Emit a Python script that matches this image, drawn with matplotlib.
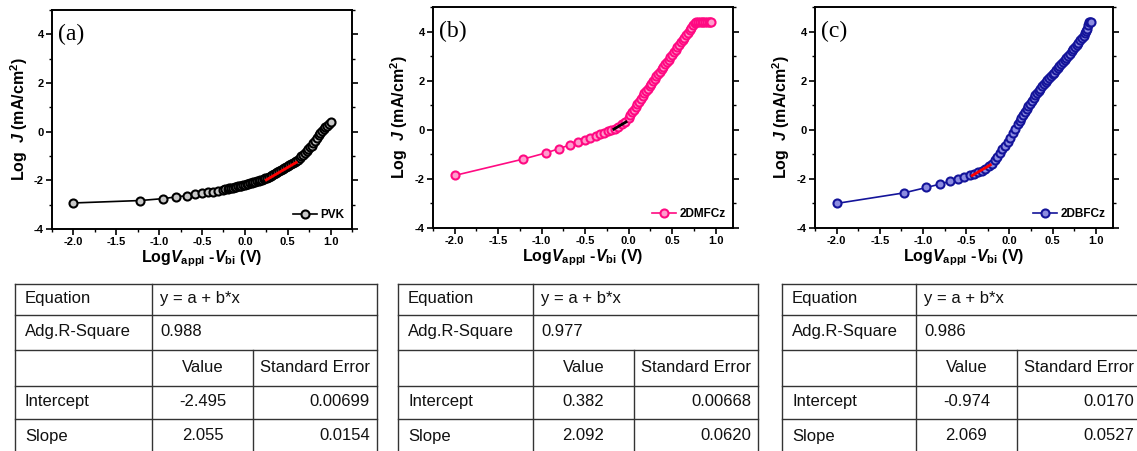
import matplotlib
matplotlib.use("Agg")
import matplotlib.pyplot as plt
from matplotlib.ticker import MultipleLocator

plt.rcParams['font.family'] = ['Liberation Sans', 'DejaVu Sans']
plt.rcParams['mathtext.fontset'] = 'custom'
plt.rcParams['mathtext.rm'] = 'Liberation Sans:bold'
plt.rcParams['mathtext.it'] = 'Liberation Sans:italic:bold'
plt.rcParams['mathtext.bf'] = 'Liberation Sans:bold'

# ---------------- data ----------------
pvk_x = [-2.0, -1.22, -0.95, -0.80, -0.68, -0.58, -0.50, -0.43, -0.37, -0.31, -0.26, -0.23,
         -0.20, -0.18, -0.16, -0.14, -0.12, -0.10, -0.08, -0.06, -0.04, -0.02,
         0.00, 0.02, 0.04, 0.06, 0.08, 0.10, 0.12, 0.14, 0.16, 0.18,
         0.20, 0.22, 0.24, 0.26, 0.28, 0.30, 0.32, 0.34, 0.36, 0.38,
         0.40, 0.42, 0.44, 0.46, 0.48, 0.50, 0.52, 0.54, 0.56, 0.58,
         0.60, 0.62, 0.64, 0.66, 0.68, 0.70, 0.72, 0.74, 0.76, 0.78,
         0.80, 0.82, 0.84, 0.86, 0.88, 0.90, 0.92, 0.94, 0.96, 0.98, 1.00]
pvk_y = [-2.93, -2.83, -2.75, -2.68, -2.63, -2.58, -2.53, -2.49, -2.46, -2.42, -2.39, -2.37,
         -2.34, -2.33, -2.31, -2.30, -2.28, -2.27, -2.25, -2.24, -2.22, -2.20,
         -2.18, -2.16, -2.14, -2.12, -2.10, -2.08, -2.06, -2.04, -2.02, -2.00,
         -1.97, -1.95, -1.92, -1.89, -1.86, -1.83, -1.79, -1.75, -1.71, -1.67,
         -1.63, -1.59, -1.54, -1.50, -1.46, -1.42, -1.38, -1.34, -1.30, -1.26,
         -1.21, -1.15, -1.09, -1.02, -0.94, -0.87, -0.80, -0.72, -0.65, -0.57,
         -0.48, -0.37, -0.25, -0.12, -0.04, 0.04, 0.11, 0.18, 0.25, 0.32, 0.39]

dmf_x = [-2.0, -1.22, -0.95, -0.80, -0.68, -0.58, -0.50, -0.44, -0.38, -0.33, -0.28, -0.24,
         -0.20, -0.16, -0.12, -0.08, -0.04,
         0.00, 0.02, 0.04, 0.06, 0.08, 0.10, 0.12, 0.14, 0.16, 0.18,
         0.20, 0.22, 0.24, 0.26, 0.28, 0.30, 0.32, 0.34, 0.36, 0.38,
         0.40, 0.42, 0.44, 0.46, 0.48, 0.50, 0.52, 0.54, 0.56, 0.58,
         0.60, 0.62, 0.64, 0.66, 0.68, 0.70, 0.72, 0.74, 0.76, 0.78,
         0.80, 0.82, 0.84, 0.86, 0.88, 0.90, 0.92, 0.94, 0.95]
dmf_y = [-1.86, -1.20, -0.94, -0.77, -0.62, -0.50, -0.40, -0.32, -0.25, -0.19, -0.13, -0.07,
         -0.02, 0.05, 0.13, 0.22, 0.32,
         0.48, 0.59, 0.71, 0.82, 0.93, 1.04, 1.15, 1.27, 1.38, 1.48,
         1.58, 1.68, 1.78, 1.88, 1.98, 2.07, 2.17, 2.27, 2.37, 2.47,
         2.57, 2.67, 2.77, 2.86, 2.96, 3.06, 3.16, 3.26, 3.36, 3.46,
         3.56, 3.66, 3.75, 3.85, 3.95, 4.05, 4.15, 4.25, 4.34, 4.40,
         4.40, 4.40, 4.40, 4.40, 4.40, 4.40, 4.40, 4.40, 4.40]

dbf_x = [-2.0, -1.22, -0.96, -0.80, -0.69, -0.60, -0.52, -0.46, -0.41, -0.36, -0.32, -0.28,
         -0.24, -0.20, -0.17, -0.14, -0.11, -0.08, -0.05, -0.02, 0.01, 0.04, 0.07, 0.10,
         0.12, 0.14, 0.16, 0.18, 0.20, 0.22, 0.24, 0.26, 0.28, 0.30,
         0.32, 0.34, 0.36, 0.38, 0.40, 0.42, 0.44, 0.46, 0.48, 0.50,
         0.52, 0.54, 0.56, 0.58, 0.60, 0.62, 0.64, 0.66, 0.68, 0.70,
         0.72, 0.74, 0.76, 0.78, 0.80, 0.82, 0.84, 0.86, 0.88, 0.89,
         0.90, 0.91, 0.92, 0.93, 0.94]
dbf_y = [-3.00, -2.57, -2.35, -2.21, -2.10, -2.01, -1.92, -1.86, -1.80, -1.73, -1.66, -1.58,
         -1.49, -1.38, -1.25, -1.10, -0.95, -0.80, -0.65, -0.48, -0.32, -0.14, 0.05, 0.24,
         0.35, 0.47, 0.60, 0.72, 0.84, 0.96, 1.07, 1.18, 1.29, 1.40,
         1.50, 1.59, 1.68, 1.77, 1.86, 1.94, 2.02, 2.10, 2.18, 2.26,
         2.33, 2.42, 2.51, 2.59, 2.68, 2.76, 2.85, 2.94, 3.02, 3.10,
         3.19, 3.28, 3.36, 3.45, 3.54, 3.64, 3.73, 3.83, 3.95, 4.03,
         4.12, 4.28, 4.38, 4.40, 4.40]

series_names = ["PVK", "2DMFCz", "2DBFCz"]
panel_labels = ["(a)", "(b)", "(c)"]

# linear fits (table values) and fitted x-range
fit_intercept = [-2.495, 0.382, -0.974]
fit_intercept_err = ["0.00699", "0.00668", "0.0170"]
fit_slope = [2.055, 2.092, 2.069]
fit_slope_err = ["0.0154", "0.0620", "0.0527"]
fit_r2 = ["0.988", "0.977", "0.986"]
fit_x_start = [0.25, -0.17, -0.43]
fit_x_end = [0.60, -0.03, -0.22]

x_ticks = [-2.0, -1.5, -1.0, -0.5, 0.0, 0.5, 1.0]
y_ticks = [-4, -2, 0, 2, 4]

# ---------------- styling ----------------
W, H = 1137, 451
fig = plt.figure(figsize=(W / 100, H / 100), dpi=100)

line_colors = ["#000000", "#FF0A82", "#14149A"]
face_colors = ["#C8C8C8", "#FF9CCD", "#8C8CE0"]
fit_colors = ["#FF0000", "#000000", "#FF0000"]

# axes boxes in pixels: left, right, top, bottom
boxes = [(52, 352, 10, 229), (433, 733, 7, 228), (815, 1113, 7, 228)]
xlims = [(-2.25, 1.25), (-2.25, 1.2), (-2.25, 1.2)]

xs = [pvk_x, dmf_x, dbf_x]
ys = [pvk_y, dmf_y, dbf_y]

tick_font = dict(family='Liberation Sans', weight='bold', size=8)

for i in range(3):
    l, r, t, b = boxes[i]
    ax = fig.add_axes([l / W, (H - b) / H, (r - l) / W, (b - t) / H])
    ax.plot(xs[i], ys[i], '-', color=line_colors[i], lw=1.2, marker='o', ms=5.8,
            mfc=face_colors[i], mec=line_colors[i], mew=1.5, label=series_names[i], zorder=2)
    fx = [fit_x_start[i], fit_x_end[i]]
    fy = [fit_intercept[i] + fit_slope[i] * v for v in fx]
    ax.plot(fx, fy, '-', color=fit_colors[i], lw=2.0, zorder=3)
    ax.set_xlim(*xlims[i])
    ax.set_ylim(-4, 5)
    ax.set_xticks(x_ticks)
    ax.set_yticks(y_ticks)
    ax.set_xticklabels(["%.1f" % v for v in x_ticks], fontdict=tick_font)
    ax.set_yticklabels([str(v) for v in y_ticks], fontdict=tick_font)
    ax.xaxis.set_minor_locator(MultipleLocator(0.25))
    ax.yaxis.set_minor_locator(MultipleLocator(1))
    ax.tick_params(axis='both', which='major', direction='out', length=4, width=1.2, pad=2)
    ax.tick_params(axis='both', which='minor', direction='out', length=2.5, width=1.0)
    ax.tick_params(axis='y', which='both', right=True, labelright=False)
    for sp in ax.spines.values():
        sp.set_linewidth(1.4)
    ax.set_ylabel(r"Log  $J$ (mA/cm$^2$)", fontsize=11.5, fontweight='bold', labelpad=3)
    ax.set_xlabel(r"Log$V_{\mathrm{appl}}$ -$V_{\mathrm{bi}}$ (V)",
                  fontsize=11.5, fontweight='bold', labelpad=1)
    ax.text(0.02, 0.89, panel_labels[i], transform=ax.transAxes, ha='left', va='center',
            fontsize=17, family='Liberation Serif')
    ax.legend(loc='lower right', frameon=False, handlelength=2.0, handletextpad=0.3,
              borderaxespad=0.25, prop=dict(family='Liberation Sans', weight='bold', size=8.5))

# ---------------- tables ----------------
tax = fig.add_axes([0, 0, 1, 1])
tax.set_xlim(0, W)
tax.set_ylim(H, 0)
tax.axis('off')

col_x = [(15, 152, 253, 377), (398, 533, 634, 758), (782, 916, 1017, 1140)]
row_y = [284, 315, 350, 386, 419, 455]
lc = "#333333"
lw = 1.0
tfs = 12

for i in range(3):
    x0, x1, x2, x3 = col_x[i]
    for yy in row_y[:-1]:
        tax.plot([x0, x3], [yy, yy], color=lc, lw=lw)
    tax.plot([x0, x0], [row_y[0], row_y[-1]], color=lc, lw=lw)
    tax.plot([x1, x1], [row_y[0], row_y[-1]], color=lc, lw=lw)
    tax.plot([x3, x3], [row_y[0], row_y[-1]], color=lc, lw=lw)
    tax.plot([x2, x2], [row_y[2], row_y[-1]], color=lc, lw=lw)

    def cy(k):
        return (row_y[k] + row_y[k + 1]) / 2 - 1

    tkw = dict(fontsize=tfs, family='Liberation Sans', va='center', color='#111111')
    tax.text(x0 + 10, cy(0), "Equation", ha='left', **tkw)
    tax.text(x1 + 8, cy(0), "y = a + b*x", ha='left', **tkw)
    tax.text(x0 + 10, cy(1), "Adg.R-Square", ha='left', **tkw)
    tax.text(x1 + 8, cy(1), fit_r2[i], ha='left', **tkw)
    tax.text((x1 + x2) / 2, cy(2), "Value", ha='center', **tkw)
    tax.text(x2 + 117, cy(2), "Standard Error", ha='right', **tkw)
    tax.text(x0 + 10, cy(3), "Intercept", ha='left', **tkw)
    tax.text((x1 + x2) / 2, cy(3), "%.3f" % fit_intercept[i], ha='center', **tkw)
    tax.text(x2 + 117, cy(3), fit_intercept_err[i], ha='right', **tkw)
    tax.text(x0 + 10, cy(4), "Slope", ha='left', **tkw)
    tax.text((x1 + x2) / 2, cy(4), "%.3f" % fit_slope[i], ha='center', **tkw)
    tax.text(x2 + 117, cy(4), fit_slope_err[i], ha='right', **tkw)

fig.savefig("out.png", dpi=100)
